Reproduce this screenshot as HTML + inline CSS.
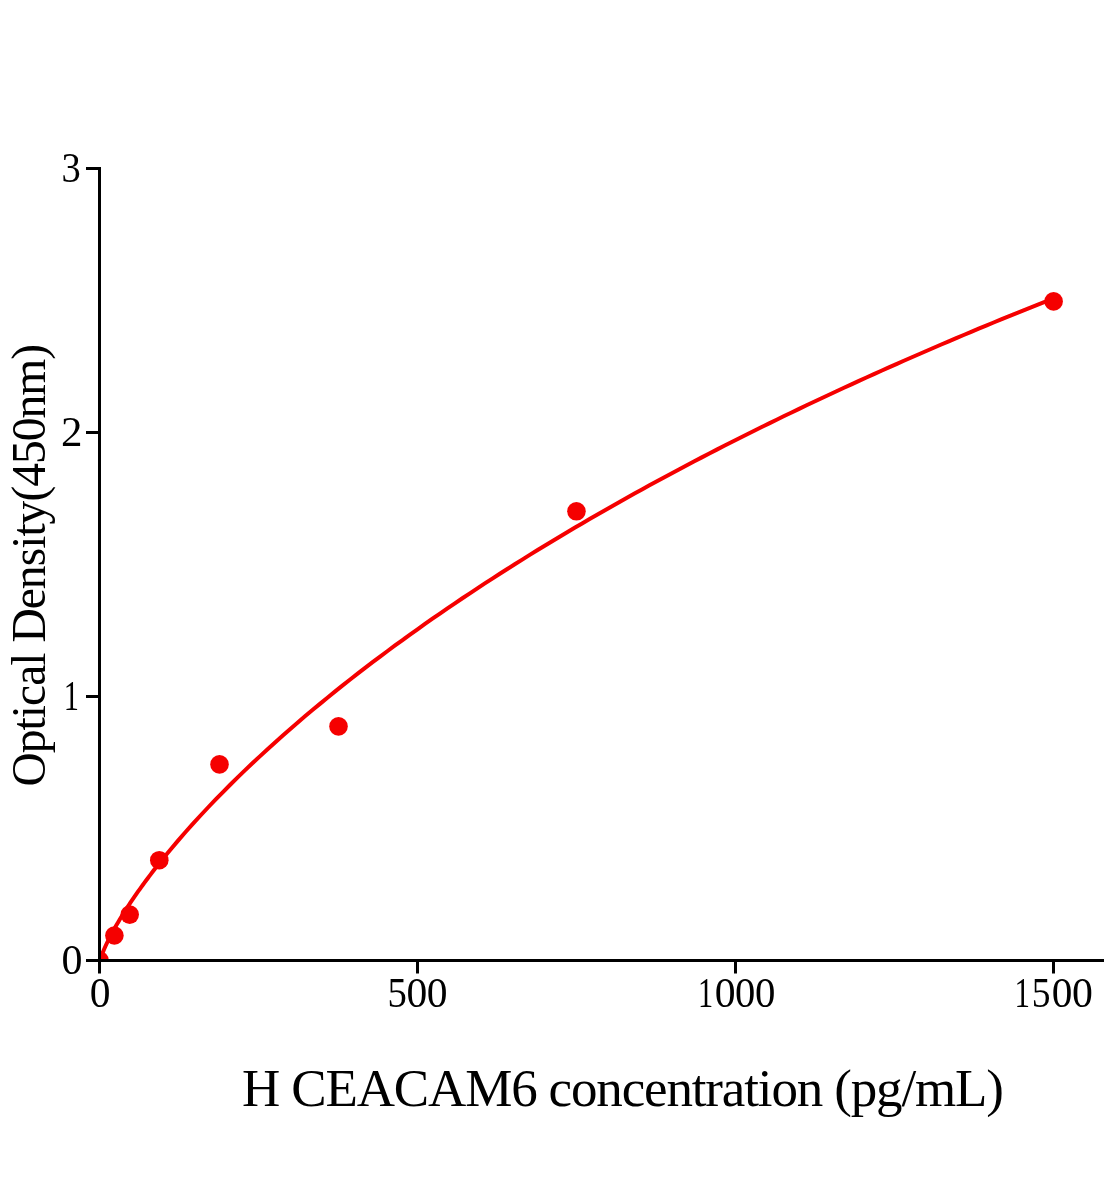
<!DOCTYPE html>
<html><head><meta charset="utf-8"><style>
html,body{margin:0;padding:0;background:#fff;}
body{width:1104px;height:1200px;overflow:hidden;}
svg{display:block;will-change:transform;}
text{font-family:"Liberation Serif",serif;fill:#000;}
</style></head><body>
<svg width="1104" height="1200" viewBox="0 0 1104 1200">
<defs><clipPath id="pa"><rect x="99.5" y="0" width="1004.5" height="960.4"/></clipPath></defs>
<g clip-path="url(#pa)" fill="#f50000">
<path d="M99.50,963.02 L100.14,960.12 L100.77,958.02 L101.41,956.14 L102.04,954.40 L102.68,952.75 L104.23,949.01 L105.78,945.53 L107.33,942.23 L108.88,939.09 L110.43,936.06 L111.98,933.13 L113.52,930.28 L115.07,927.50 L116.62,924.79 L118.17,922.14 L119.72,919.54 L121.27,916.98 L122.82,914.47 L124.37,912.00 L125.92,909.57 L127.47,907.18 L129.02,904.81 L130.57,902.48 L132.12,900.18 L133.66,897.90 L135.21,895.65 L136.76,893.42 L138.31,891.22 L139.86,889.04 L141.41,886.89 L142.96,884.75 L144.51,882.64 L146.06,880.54 L147.61,878.46 L149.16,876.40 L150.71,874.36 L152.26,872.33 L153.80,870.32 L155.35,868.33 L156.90,866.35 L158.45,864.38 L160.00,862.43 L161.55,860.49 L163.10,858.57 L170.58,849.46 L178.06,840.62 L185.55,832.03 L193.03,823.66 L200.51,815.49 L207.99,807.50 L215.48,799.69 L222.96,792.03 L230.44,784.53 L237.92,777.16 L245.41,769.93 L252.89,762.82 L260.37,755.84 L267.85,748.96 L275.34,742.19 L282.82,735.53 L290.30,728.96 L297.78,722.49 L305.26,716.10 L312.75,709.81 L320.23,703.59 L327.71,697.46 L335.19,691.40 L342.68,685.42 L350.16,679.52 L357.64,673.68 L365.12,667.91 L372.61,662.20 L380.09,656.56 L387.57,650.99 L395.05,645.47 L402.54,640.01 L410.02,634.61 L417.50,629.26 L424.98,623.97 L432.46,618.73 L439.95,613.54 L447.43,608.41 L454.91,603.32 L462.39,598.28 L469.88,593.29 L477.36,588.34 L484.84,583.44 L492.32,578.58 L499.81,573.77 L507.29,568.99 L514.77,564.26 L522.25,559.57 L529.74,554.92 L537.22,550.31 L544.70,545.73 L552.18,541.19 L559.66,536.69 L567.15,532.23 L574.63,527.80 L582.11,523.41 L589.59,519.05 L597.08,514.72 L604.56,510.43 L612.04,506.17 L619.52,501.94 L627.01,497.74 L634.49,493.57 L641.97,489.44 L649.45,485.33 L656.94,481.25 L664.42,477.21 L671.90,473.19 L679.38,469.20 L686.86,465.23 L694.35,461.30 L701.83,457.39 L709.31,453.50 L716.79,449.65 L724.28,445.81 L731.76,442.01 L739.24,438.23 L746.72,434.47 L754.21,430.74 L761.69,427.03 L769.17,423.35 L776.65,419.69 L784.14,416.05 L791.62,412.44 L799.10,408.84 L806.58,405.27 L814.06,401.73 L821.55,398.20 L829.03,394.69 L836.51,391.21 L843.99,387.75 L851.48,384.31 L858.96,380.88 L866.44,377.48 L873.92,374.10 L881.41,370.74 L888.89,367.39 L896.37,364.07 L903.85,360.76 L911.34,357.48 L918.82,354.21 L926.30,350.96 L933.78,347.73 L941.26,344.52 L948.75,341.32 L956.23,338.14 L963.71,334.98 L971.19,331.84 L978.68,328.71 L986.16,325.60 L993.64,322.51 L1001.12,319.43 L1008.61,316.37 L1016.09,313.33 L1023.57,310.30 L1031.05,307.28 L1038.54,304.29 L1046.02,301.31 L1053.50,298.34" fill="none" stroke="#f50000" stroke-width="4" stroke-linejoin="round"/>
<circle cx="99.5" cy="960.4" r="9.3"/>
<circle cx="114.4" cy="935.5" r="9.3"/>
<circle cx="129.7" cy="914.6" r="9.3"/>
<circle cx="159.3" cy="860.2" r="9.3"/>
<circle cx="219.5" cy="764.4" r="9.3"/>
<circle cx="338.5" cy="726.4" r="9.3"/>
<circle cx="576.45" cy="511.3" r="9.3"/>
<circle cx="1053.6" cy="301.4" r="9.3"/>
</g>
<g stroke="#000" stroke-width="3" fill="none">
<path d="M99.5,167 V973.5"/>
<path d="M86,960.4 H1104"/>
<path d="M86,168.5 H99.5 M86,432.4 H99.5 M86,696.4 H99.5"/>
<path d="M417.5,960.4 V973.5 M735.5,960.4 V973.5 M1053.5,960.4 V973.5"/>
</g>
<g font-size="42.2"><text transform="translate(61.56,182.30) scale(0.912,1)">3</text><text transform="translate(61.01,446.00) scale(1.017,1)">2</text><text transform="translate(63.83,710.00) scale(0.720,1)">1</text><text transform="translate(61.40,973.90) scale(0.995,1)">0</text><text transform="translate(89.72,1007.00) scale(0.984,1)">0</text><text transform="translate(387.45,1007.00) scale(0.918,1)">5</text><text transform="translate(406.52,1007.00) scale(0.984,1)">0</text><text transform="translate(426.72,1007.00) scale(0.984,1)">0</text><text transform="translate(697.93,1007.00) scale(0.720,1)">1</text><text transform="translate(714.66,1007.00) scale(0.987,1)">0</text><text transform="translate(735.05,1007.00) scale(0.962,1)">0</text><text transform="translate(755.05,1007.00) scale(0.967,1)">0</text><text transform="translate(1014.48,1007.00) scale(0.734,1)">1</text><text transform="translate(1031.72,1007.00) scale(0.888,1)">5</text><text transform="translate(1051.63,1007.00) scale(0.978,1)">0</text><text transform="translate(1071.91,1007.00) scale(0.990,1)">0</text></g>
<text x="242.1" y="1105.9" font-size="53" letter-spacing="-1.15">H CEACAM6 concentration (pg/mL)</text>
<text transform="translate(45.2,786.50) rotate(-90)" font-size="47.5" letter-spacing="-0.97">Optical Density(450nm)</text>
</svg>
</body></html>
